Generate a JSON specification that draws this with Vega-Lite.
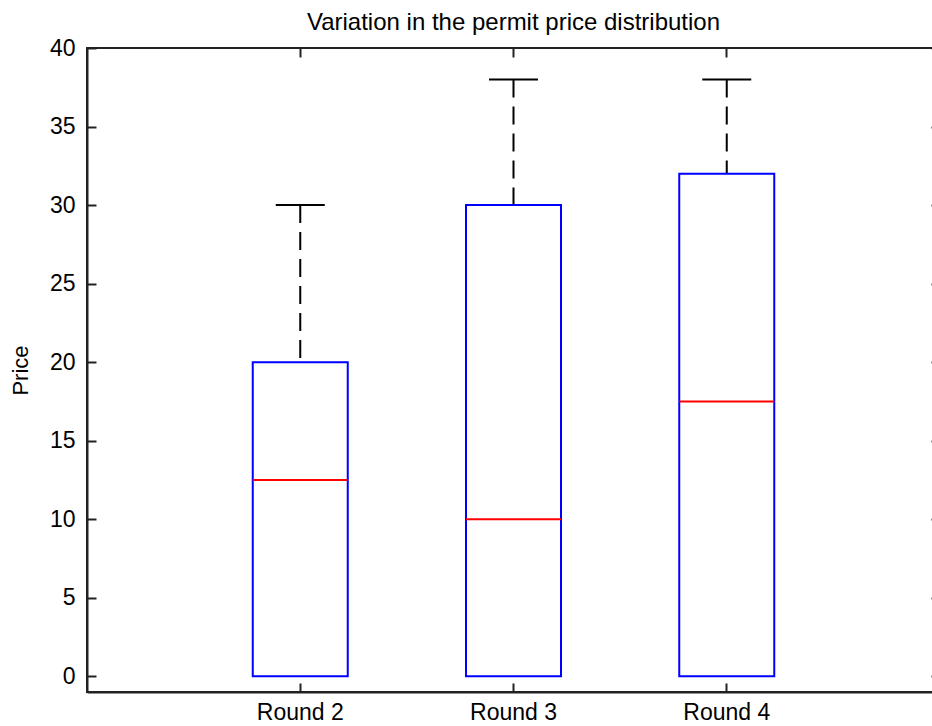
{
  "$schema": "https://vega.github.io/schema/vega-lite/v6.json",
  "autosize": {"type": "none"},
  "padding": {"left": 87, "top": 48, "right": 0, "bottom": 34},
  "width": 853,
  "height": 644,
  "background": "white",
  "title": {"text": "Variation in the permit price distribution", "fontSize": 24, "fontWeight": "normal", "font": "Liberation Sans", "color": "#000000", "offset": 2},
  "config": {
    "view": {"stroke": "#222222", "strokeWidth": 2},
    "axis": {"grid": false, "domainColor": "#222222", "domainWidth": 2, "tickColor": "#222222", "tickWidth": 2, "tickSize": 9, "labelFont": "Liberation Sans", "labelFontSize": 23, "labelColor": "#000000", "titleFont": "Liberation Sans", "titleFontSize": 22, "titleFontWeight": "normal", "titleColor": "#000000"}
  },
  "data": {"values": [
    {"round": "Round 2", "lo": 0, "q1": 0, "median": 12.5, "q3": 20, "hi": 30},
    {"round": "Round 3", "lo": 0, "q1": 0, "median": 10, "q3": 30, "hi": 38},
    {"round": "Round 4", "lo": 0, "q1": 0, "median": 17.5, "q3": 32, "hi": 38}
  ]},
  "layer": [
    {
      "mark": {"type": "rule", "color": "#000000", "strokeWidth": 2, "strokeDash": [18, 9]},
      "encoding": {
        "x": {"field": "round", "type": "nominal", "sort": null,
          "scale": {"paddingInner": 0, "paddingOuter": 0.5},
          "axis": {"orient": "bottom", "title": null, "labelAngle": 0, "ticks": false, "labelPadding": 9}},
        "y": {"field": "hi", "type": "quantitative", "scale": {"domain": [-1, 40], "nice": false, "zero": false},
          "axis": {"orient": "left", "title": "Price", "values": [0, 5, 10, 15, 20, 25, 30, 35, 40], "ticks": false, "labelPadding": 12, "titlePadding": 17}},
        "y2": {"field": "q3"}
      }
    },
    {
      "mark": {"type": "tick", "orient": "horizontal", "color": "#000000", "size": 49, "thickness": 2, "opacity": 1},
      "encoding": {
        "x": {"field": "round", "type": "nominal", "sort": null,
          "axis": {"orient": "top", "offset": -644, "title": null, "labels": false, "domain": false}},
        "y": {"field": "hi", "type": "quantitative",
          "axis": {"orient": "right", "offset": -853, "title": null, "labels": false, "domain": false, "values": [0, 5, 10, 15, 20, 25, 30, 35, 40]}}
      }
    },
    {
      "mark": {"type": "bar", "fill": "transparent", "stroke": "#0000ff", "strokeWidth": 2, "size": 95},
      "encoding": {
        "x": {"field": "round", "type": "nominal", "sort": null,
          "axis": {"orient": "bottom", "offset": -644, "title": null, "labels": false, "domain": false}},
        "y": {"field": "q1", "type": "quantitative",
          "axis": {"orient": "left", "offset": -853, "title": null, "labels": false, "domain": false, "values": [0, 5, 10, 15, 20, 25, 30, 35, 40]}},
        "y2": {"field": "q3"}
      }
    },
    {
      "mark": {"type": "tick", "orient": "horizontal", "color": "#ff0000", "size": 95, "thickness": 2, "opacity": 1},
      "encoding": {
        "x": {"field": "round", "type": "nominal", "sort": null, "axis": null},
        "y": {"field": "median", "type": "quantitative", "axis": null}
      }
    }
  ],
  "resolve": {"axis": {"x": "independent", "y": "independent"}}
}
